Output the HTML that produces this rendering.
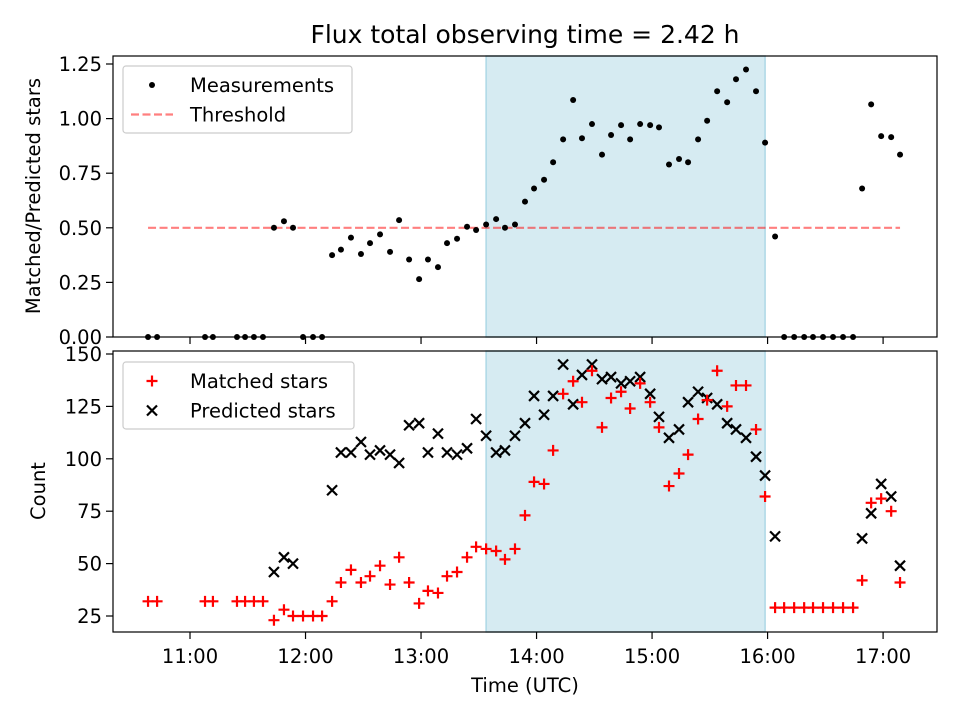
<!DOCTYPE html>
<html><head><meta charset="utf-8"><style>
body{margin:0;background:#fff;}
svg{display:block;font-family:"DejaVu Sans","Liberation Sans",sans-serif;}
</style></head><body>
<svg id="chart" width="960" height="720" viewBox="0 0 960 720" xmlns="http://www.w3.org/2000/svg">
<rect width="960" height="720" fill="#fff"/>
<text x="525" y="43" font-size="25" text-anchor="middle">Flux total observing time = 2.42 h</text>
<g id="topPanel"></g>
<g id="botPanel"></g>
<text x="525" y="692" font-size="19.5" text-anchor="middle">Time (UTC)</text>
<text transform="translate(40,196) rotate(-90)" font-size="19.5" text-anchor="middle">Matched/Predicted stars</text>
<text transform="translate(45,491) rotate(-90)" font-size="19.5" text-anchor="middle">Count</text>
</svg>
<script>
// minutes since midnight (UTC)
const times=[638.2,642.9,667.8,671.9,684.4,688.6,693.2,697.9,703.6,708.8,713.5,718.7,723.9,728.6,733.8,738.4,743.6,748.8,753.5,758.7,763.9,768.6,773.8,779.0,783.6,788.8,793.5,798.7,803.9,808.6,813.8,819.0,823.6,828.8,834.0,838.7,843.9,848.6,853.8,859.0,863.6,868.8,874.0,878.7,883.9,888.6,893.8,899.0,903.6,908.8,914.0,918.7,923.9,928.6,933.8,939.0,943.6,948.8,954.0,958.7,963.9,968.6,973.8,979.0,983.6,988.8,994.0,999.2,1004.4,1009.1,1013.8,1019.0,1024.2,1028.8];
const ratio=[0,0,0,0,0,0,0,0,0.50,0.53,0.50,0,0,0,0.375,0.40,0.455,0.38,0.43,0.47,0.39,0.535,0.355,0.265,0.355,0.32,0.43,0.45,0.505,0.49,0.515,0.54,0.50,0.515,0.62,0.68,0.72,0.80,0.905,1.085,0.91,0.975,0.835,0.925,0.97,0.905,0.975,0.97,0.96,0.79,0.815,0.80,0.905,0.99,1.125,1.075,1.18,1.225,1.125,0.89,0.46,0,0,0,0,0,0,0,0,0.68,1.065,0.92,0.915,0.835];
const matched=[32,32,32,32,32,32,32,32,23,28,25,25,25,25,32,41,47,41,44,49,40,53,41,31,37,36,44,46,53,58,57,56,52,57,73,89,88,104,131,137,127,142,115,129,132,124,136,127,115,87,93,102,119,128,142,125,135,135,114,82,29,29,29,29,29,29,29,29,29,42,79,81,75,41];
const predicted=[null,null,null,null,null,null,null,null,46,53,50,null,null,null,85,103,103,108,102,104,102,98,116,117,103,112,103,102,105,119,111,103,104,111,117,130,121,130,145,126,140,145,138,139,136,137,139,131,120,110,114,127,132,129,126,117,114,110,101,92,63,null,null,null,null,null,null,null,null,62,74,88,82,49];
const threshold=0.5;
const spanStart=813.8, spanEnd=958.7;
const xTicks=[660,720,780,840,900,960,1020];
const xTickLabels=["11:00","12:00","13:00","14:00","15:00","16:00","17:00"];
const topTicks=[0,0.25,0.5,0.75,1.0,1.25];
const topTickLabels=["0.00","0.25","0.50","0.75","1.00","1.25"];
const botTicks=[25,50,75,100,125,150];

const NS="http://www.w3.org/2000/svg";
const X0=113,X1=937;
const xs=m=>X0+(m-620)*(X1-X0)/(1048-620);
const yTop=v=>337-v*218.4;
const yBot=v=>616-(v-25)*262/125;
function mk(p,tag,a){const e=document.createElementNS(NS,tag);for(const k in a)e.setAttribute(k,a[k]);p.appendChild(e);return e;}

function panel(g,t0,b0,ticks,labels,yf,prefix){
  const s=mk(g,'rect',{x:xs(spanStart),y:t0,width:xs(spanEnd)-xs(spanStart),height:b0-t0,fill:'#add8e6','fill-opacity':0.5,stroke:'#add8e6','stroke-width':1.5});
  
  
  xTicks.forEach((t,i)=>{
    const l=mk(g,'line',{x1:xs(t),x2:xs(t),y1:b0,y2:b0+7,stroke:'#000','stroke-width':1.2});
    
    
    if(prefix==='bottom'){
      const tx=mk(g,'text',{x:xs(t),y:b0+31,'font-size':19.5,'text-anchor':'middle'});
      tx.textContent=xTickLabels[i];
      
      
    }
  });
  ticks.forEach((t,i)=>{
    mk(g,'line',{x1:X0-7,x2:X0,y1:yf(t),y2:yf(t),stroke:'#000','stroke-width':1.2});
    const tx=mk(g,'text',{x:X0-11,y:yf(t)+7,'font-size':19.5,'text-anchor':'end'});
    tx.textContent=labels[i];
    
    
  });
}
const topG=document.getElementById('topPanel'), botG=document.getElementById('botPanel');
panel(topG,56,337,topTicks,topTickLabels,yTop,'top');
panel(botG,351,632,botTicks,botTicks.map(String),yBot,'bottom');

const th=mk(topG,'line',{x1:xs(times[0]),x2:xs(times[times.length-1]),y1:yTop(threshold),y2:yTop(threshold),stroke:'#ff0000','stroke-opacity':0.5,'stroke-width':2.2,'stroke-dasharray':'8,3.5'});



times.forEach((t,i)=>{
  const c=mk(topG,'circle',{cx:xs(t),cy:yTop(ratio[i]),r:3,fill:'#000'});
  
  
});
times.forEach((t,i)=>{
  if(predicted[i]==null)return;
  const cx=xs(t),cy=yBot(predicted[i]),d=5;
  const p=mk(botG,'path',{d:`M${cx-d},${cy-d}L${cx+d},${cy+d}M${cx-d},${cy+d}L${cx+d},${cy-d}`,stroke:'#000','stroke-width':2.2});
  
  
});
times.forEach((t,i)=>{
  const cx=xs(t),cy=yBot(matched[i]),d=5.5;
  const p=mk(botG,'path',{d:`M${cx-d},${cy}L${cx+d},${cy}M${cx},${cy-d}L${cx},${cy+d}`,stroke:'#ff0000','stroke-width':2.2});
  
  
});
[[topG,56,337],[botG,351,632]].forEach(([g,a,b])=>{
  const f=mk(g,'rect',{x:X0,y:a,width:X1-X0,height:b-a,fill:'none',stroke:'#000','stroke-width':1.2});
  
  
});
function legend(g,y0,h,w,items,name){
  const L=mk(g,'g',{});
  
  
  mk(L,'rect',{x:123,y:y0,width:w,height:h,rx:3,fill:'#fff','fill-opacity':0.8,stroke:'#ccc','stroke-width':1.2});
  items.forEach((it,i)=>{
    const cy=y0+19+i*29.5;
    it.draw(L,152,cy);
    const t=mk(L,'text',{x:190,y:cy+7,'font-size':19.5});
    t.textContent=it.label;
    
    
  });
}
legend(topG,66,67,229,[
 {label:'Measurements',draw:(g,cx,cy)=>mk(g,'circle',{cx:cx,cy:cy,r:3,fill:'#000'})},
 {label:'Threshold',draw:(g,cx,cy)=>mk(g,'line',{x1:cx-21,x2:cx+21,y1:cy,y2:cy,stroke:'#ff0000','stroke-opacity':0.5,'stroke-width':2.2,'stroke-dasharray':'8,3.5'})}
],'top-legend');
legend(botG,362,67,231,[
 {label:'Matched stars',draw:(g,cx,cy)=>mk(g,'path',{d:`M${cx-5.5},${cy}L${cx+5.5},${cy}M${cx},${cy-5.5}L${cx},${cy+5.5}`,stroke:'#ff0000','stroke-width':2.2})},
 {label:'Predicted stars',draw:(g,cx,cy)=>mk(g,'path',{d:`M${cx-5},${cy-5}L${cx+5},${cy+5}M${cx-5},${cy+5}L${cx+5},${cy-5}`,stroke:'#000','stroke-width':2.2})}
],'bottom-legend');
</script>
</body></html>
